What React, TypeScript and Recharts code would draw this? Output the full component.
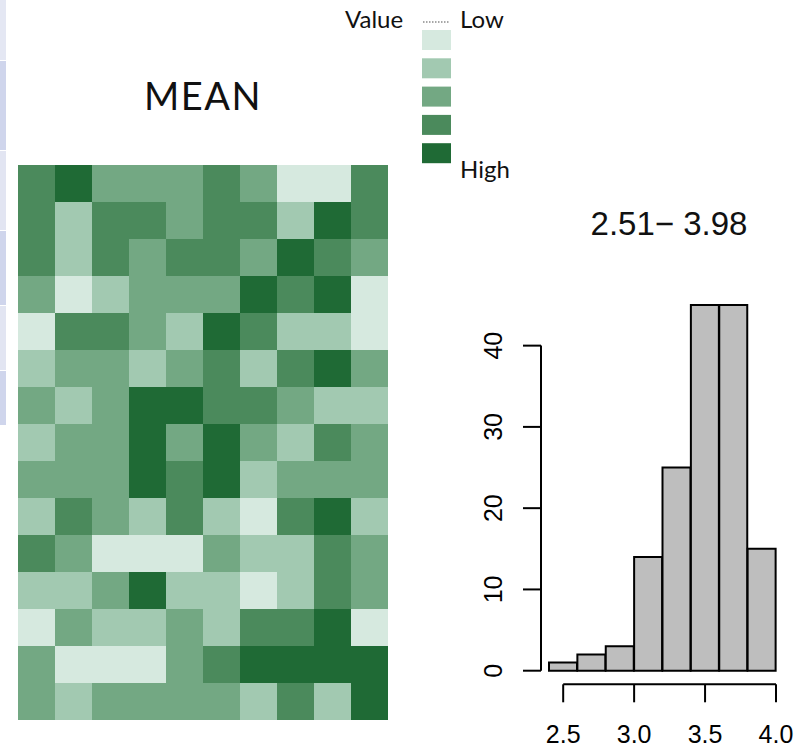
import { BarChart, Bar, Cell, XAxis, YAxis } from "recharts";

// heat levels 1 (low) .. 5 (high)
const levelColors = ["#d6e9df", "#a2c9b1", "#73a883", "#4b8a5c", "#1f6a35"];
const levelNames = ["Low", "", "", "", "High"];
const columns = ["c1", "c2", "c3", "c4", "c5", "c6", "c7", "c8", "c9", "c10"];

const row01 = [4, 5, 3, 3, 3, 4, 3, 1, 1, 4];
const row02 = [4, 2, 4, 4, 3, 4, 4, 2, 5, 4];
const row03 = [4, 2, 4, 3, 4, 4, 3, 5, 4, 3];
const row04 = [3, 1, 2, 3, 3, 3, 5, 4, 5, 1];
const row05 = [1, 4, 4, 3, 2, 5, 4, 2, 2, 1];
const row06 = [2, 3, 3, 2, 3, 4, 2, 4, 5, 3];
const row07 = [3, 2, 3, 5, 5, 4, 4, 3, 2, 2];
const row08 = [2, 3, 3, 5, 3, 5, 3, 2, 4, 3];
const row09 = [3, 3, 3, 5, 4, 5, 2, 3, 3, 3];
const row10 = [2, 4, 3, 2, 4, 2, 1, 4, 5, 2];
const row11 = [4, 3, 1, 1, 1, 3, 2, 2, 4, 3];
const row12 = [2, 2, 3, 5, 2, 2, 1, 2, 4, 3];
const row13 = [1, 3, 2, 2, 3, 2, 4, 4, 5, 1];
const row14 = [3, 1, 1, 1, 3, 4, 5, 5, 5, 5];
const row15 = [3, 2, 3, 3, 3, 3, 2, 4, 2, 5];
const meanRows = [row01, row02, row03, row04, row05, row06, row07, row08, row09, row10, row11, row12, row13, row14, row15];

// histogram of the mean values
const binLabels = ["2.4", "2.6", "2.8", "3.0", "3.2", "3.4", "3.6", "3.8"];
const binMids = [2.5, 2.7, 2.9, 3.1, 3.3, 3.5, 3.7, 3.9];
const binCounts = [1, 2, 3, 14, 25, 45, 45, 15];
const yTicks = [0, 10, 20, 30, 40];
const xTicks = [2.5, 3.0, 3.5, 4.0];
const histTitle = "2.51\u2212 3.98";

// every tile is one unit tall in its column stack
const heatData = columns.map((c) => {
  const o: Record<string, any> = { col: c };
  meanRows.forEach((_, ri) => { o[`r${ri}`] = 1; });
  return o;
});

const histData = binLabels.map((b, i) => ({ bin: b, mid: binMids[i], count: binCounts[i] }));

const AXIS = "#000";
const RFONT = "'Liberation Sans', Arial, sans-serif";
const SFONT = "Lato, 'Open Sans', sans-serif";

const RotatedTick = (props: any) => {
  const { x, y, payload } = props;
  return (
    <text x={x - 28} y={y} textAnchor="middle" dominantBaseline="central"
      transform={`rotate(-90, ${x - 28}, ${y})`} fontSize={25} fontFamily={RFONT} fill="#000">
      {payload.value}
    </text>
  );
};

const App = () => {
  const rowIdx = meanRows.map((_, i) => i).reverse(); // bottom row stacked first
  return (
    <div style={{ position: "absolute", left: 0, top: 0, width: 809, height: 747, background: "#fff", overflow: "hidden" }}>
      {/* slide table edge on the left */}
      {[[0, 60, "#e4e7f3"], [61, 150, "#cfd5ec"], [151, 230, "#e2e5f2"], [231, 305, "#cfd5ec"], [306, 370, "#e2e5f2"], [371, 425, "#cfd5ec"]].map(([a, b, c], i) => (
        <div key={i} style={{ position: "absolute", left: 0, top: a as number, width: 6, height: (b as number) - (a as number), background: c as string }} />
      ))}

      <div style={{ position: "absolute", left: 18, top: 165 }}>
        <BarChart width={370} height={555} data={heatData} margin={{ top: 0, right: 0, bottom: 0, left: 0 }}
          barCategoryGap={0} barGap={0}>
          <XAxis dataKey="col" hide />
          <YAxis hide domain={[0, meanRows.length]} />
          {rowIdx.map((ri) => (
            <Bar key={ri} dataKey={`r${ri}`} stackId="m" isAnimationActive={false}>
              {columns.map((c, ci) => (
                <Cell key={c} fill={levelColors[meanRows[ri][ci] - 1]} />
              ))}
            </Bar>
          ))}
        </BarChart>
      </div>

      <div style={{ position: "absolute", left: 470, top: 280 }}>
        <BarChart width={339} height={467} data={histData} margin={{ top: 25, right: 33, bottom: 0, left: 0 }}
          barCategoryGap={0} barGap={0}>
          <XAxis xAxisId="bins" dataKey="bin" height={13.6} tick={false} tickLine={false} axisLine={false}
            padding={{ left: 8, right: 0 }} />
          <XAxis xAxisId="num" dataKey="mid" type="number" domain={[2.4, 4.0]} allowDataOverflow ticks={xTicks} interval={0}
            height={62.7} padding={{ left: 8, right: 0 }} tickSize={18} tickMargin={23}
            tickFormatter={(v: number) => v.toFixed(1)}
            axisLine={{ stroke: AXIS, strokeWidth: 2, strokeDasharray: "0 22.2 213 100" }}
            tickLine={{ stroke: AXIS, strokeWidth: 2 }}
            tick={{ fill: "#000", fontSize: 25, fontFamily: RFONT }} />
          <YAxis domain={[0, 45]} ticks={yTicks} interval={0} width={71} tickSize={18}
            axisLine={{ stroke: AXIS, strokeWidth: 2, strokeDasharray: "0 40.6 325.1 100" }}
            tickLine={{ stroke: AXIS, strokeWidth: 2 }} tick={<RotatedTick />} />
          <Bar xAxisId="bins" dataKey="count" fill="#bebebe" stroke="#000" strokeWidth={2} isAnimationActive={false} />
        </BarChart>
      </div>

      <svg width={809} height={747} style={{ position: "absolute", left: 0, top: 0, pointerEvents: "none" }}>
        <text x={203} y={110} textAnchor="middle" fontSize={38} fontFamily={SFONT} letterSpacing={1.5} fill="#111">MEAN</text>
        <text x={669} y={235} textAnchor="middle" fontSize={33} fontFamily={RFONT} fill="#111">{histTitle}</text>
        <text x={345} y={28} fontSize={24} fontFamily={SFONT} fill="#111">Value</text>
        <line x1={423} y1={22} x2={450} y2={22} stroke="#8a8a8a" strokeWidth={1.5} strokeDasharray="1.5 1.5" />
        {levelColors.map((c, i) => (
          <rect key={c} x={422} y={30 + i * 28.3} width={29} height={20} fill={c} />
        ))}
        <text x={460} y={28} fontSize={24} fontFamily={SFONT} fill="#111">{levelNames[0]}</text>
        <text x={460} y={178} fontSize={24} fontFamily={SFONT} fill="#111">{levelNames[4]}</text>
      </svg>
    </div>
  );
};

export default App;
